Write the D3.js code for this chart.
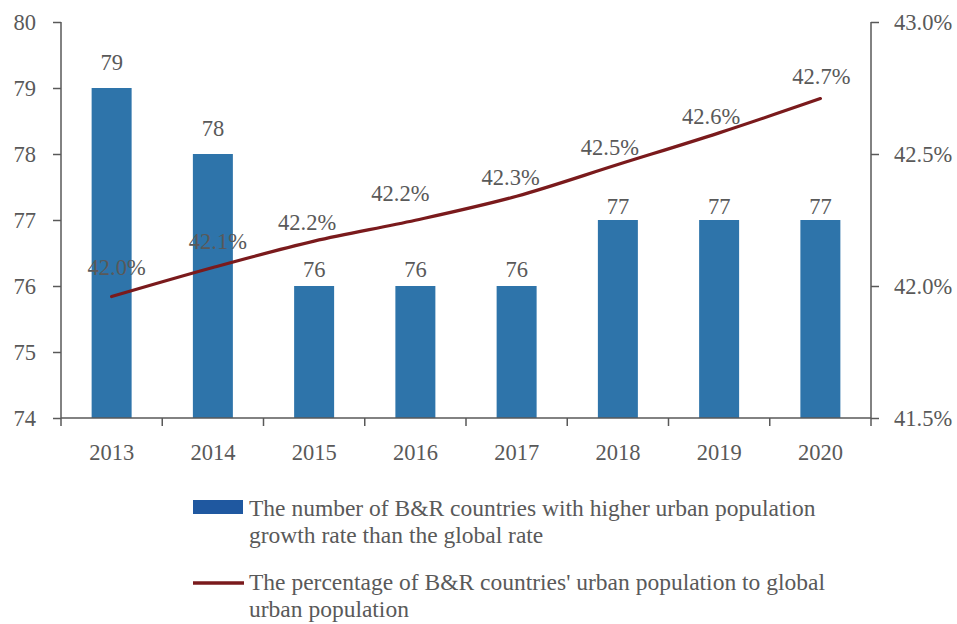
<!DOCTYPE html>
<html>
<head>
<meta charset="utf-8">
<script src="https://cdn.jsdelivr.net/npm/d3@7"></script>
<style>
  html, body { margin: 0; padding: 0; background: #fff; }
  svg text { font-family: "Liberation Serif", "Times New Roman", serif; fill: #595959; }
</style>
</head>
<body>
<svg id="chart" width="957" height="624" font-family="Liberation Serif, Times New Roman, serif"></svg>
<script>
// Years on the category axis
const years = ["2013", "2014", "2015", "2016", "2017", "2018", "2019", "2020"];
// Number of B&R countries whose urban population grows faster than the world rate
const countryCounts = [79, 78, 76, 76, 76, 77, 77, 77];
// Share of B&R countries' urban population in the global urban population (%)
const urbanShare = [41.96, 42.07, 42.17, 42.249, 42.34, 42.46, 42.58, 42.71];
const shareLabels = ["42.0%", "42.1%", "42.2%", "42.2%", "42.3%", "42.5%", "42.6%", "42.7%"];
// Axis ticks
const leftTicks = [74, 75, 76, 77, 78, 79, 80];
const rightTicks = [41.5, 42.0, 42.5, 43.0];
const seriesNames = [
  ["The number of B&R countries with higher urban population", "growth rate than the global rate"],
  ["The percentage of B&R countries' urban population to global", "urban population"]
];

// Label placement nudges (dx, dy in px) so labels keep clear of the line
const shareLabelNudge = [[5, -22], [5, -19], [-7, -11], [-15, -19], [-6, -11], [-8, -10], [-8, -9], [1, -15]];
const countLabelGap = [18, 18, 9, 9, 9, 6, 6, 6];

const svg = d3.select("#chart");
const margin = { top: 22, right: 86, bottom: 206, left: 61 };
const W = 957, H = 624;
const x0 = margin.left, x1 = W - margin.right;
const y0 = H - margin.bottom, y1 = margin.top;
const FS = 22.5;
const LFS = 23.5;
const serif = '"Liberation Serif", "Times New Roman", serif';
const axisColor = "#595959";

const x = d3.scaleBand().domain(years).range([x0, x1]).paddingInner(0).paddingOuter(0);
const yL = d3.scaleLinear().domain([74, 80]).range([y0, y1]);
const yR = d3.scaleLinear().domain([41.5, 43.0]).range([y0, y1]);

const barW = x.bandwidth() * 0.395;

// Bars
svg.append("g").selectAll("rect")
  .data(years)
  .join("rect")
  .attr("x", (d) => x(d) + x.bandwidth() / 2 - barW / 2)
  .attr("y", (d, i) => yL(countryCounts[i]))
  .attr("width", barW)
  .attr("height", (d, i) => yL(74) - yL(countryCounts[i]))
  .attr("fill", "#2E74AA");

// Bar value labels
svg.append("g").selectAll("text")
  .data(years)
  .join("text")
  .attr("x", (d) => x(d) + x.bandwidth() / 2)
  .attr("y", (d, i) => yL(countryCounts[i]) - countLabelGap[i])
  .attr("text-anchor", "middle")
  .attr("font-size", FS)
  .text((d, i) => countryCounts[i]);

// Share line
const line = d3.line()
  .x((d, i) => x(years[i]) + x.bandwidth() / 2)
  .y((d) => yR(d))
  .curve(d3.curveCatmullRom.alpha(0.5));

svg.append("path")
  .datum(urbanShare)
  .attr("d", line)
  .attr("fill", "none")
  .attr("stroke", "#7A1A1C")
  .attr("stroke-width", 3.2)
  .attr("stroke-linecap", "round");

// Share value labels
svg.append("g").selectAll("text")
  .data(years)
  .join("text")
  .attr("x", (d, i) => x(d) + x.bandwidth() / 2 + shareLabelNudge[i][0])
  .attr("y", (d, i) => yR(urbanShare[i]) + shareLabelNudge[i][1])
  .attr("text-anchor", "middle")
  .attr("font-size", FS)
  .text((d, i) => shareLabels[i]);

// Left axis
const leftAxis = d3.axisLeft(yL).tickValues(leftTicks).tickSize(8).tickPadding(17).tickFormat(d3.format("d"));
const gL = svg.append("g").attr("transform", `translate(${x0},0)`).call(leftAxis);

// Right axis
const rightAxis = d3.axisRight(yR).tickValues(rightTicks).tickSize(8).tickPadding(15).tickFormat((d) => d.toFixed(1) + "%");
const gR = svg.append("g").attr("transform", `translate(${x1},0)`).call(rightAxis);

[gL, gR].forEach((g) => {
  g.attr("font-family", serif).attr("font-size", FS);
  g.select(".domain").remove();
  g.selectAll(".tick line").attr("stroke", axisColor).attr("stroke-width", 1.5);
  g.selectAll(".tick text").attr("font-size", FS).attr("fill", axisColor);
});

// Bottom axis: ticks at band boundaries, labels centred in bands
const gB = svg.append("g").attr("transform", `translate(0,${y0})`);
gB.append("line").attr("x1", x0).attr("x2", x1).attr("y1", 0).attr("y2", 0);
const bounds = years.map((d) => x(d)).concat([x1]);
gB.selectAll("line.tick").data(bounds).join("line")
  .attr("class", "tick")
  .attr("x1", (d) => d).attr("x2", (d) => d)
  .attr("y1", 0).attr("y2", 8);
gB.selectAll("line").attr("stroke", axisColor).attr("stroke-width", 1.5);
gB.selectAll("text").data(years).join("text")
  .attr("x", (d) => x(d) + x.bandwidth() / 2)
  .attr("y", 42)
  .attr("text-anchor", "middle")
  .attr("font-size", FS)
  .text((d) => d);

// Vertical axis lines
svg.append("line").attr("x1", x0).attr("x2", x0).attr("y1", y1).attr("y2", y0)
  .attr("stroke", axisColor).attr("stroke-width", 1.5);
svg.append("line").attr("x1", x1).attr("x2", x1).attr("y1", y1).attr("y2", y0)
  .attr("stroke", axisColor).attr("stroke-width", 1.5);

// Legend
const legend = svg.append("g").attr("transform", "translate(193,0)");
legend.append("rect").attr("x", 0).attr("y", 500).attr("width", 50).attr("height", 14).attr("fill", "#1F58A0");
legend.append("line").attr("x1", 0).attr("x2", 51).attr("y1", 583).attr("y2", 583)
  .attr("stroke", "#7A1A1C").attr("stroke-width", 3.5);
const legendY = [516, 590];
seriesNames.forEach((lines, k) => {
  const t = legend.append("text").attr("x", 56).attr("y", legendY[k]).attr("font-size", LFS);
  lines.forEach((s, j) => {
    t.append("tspan").attr("x", 56).attr("dy", j === 0 ? 0 : 27).text(s);
  });
});
</script>
</body>
</html>
